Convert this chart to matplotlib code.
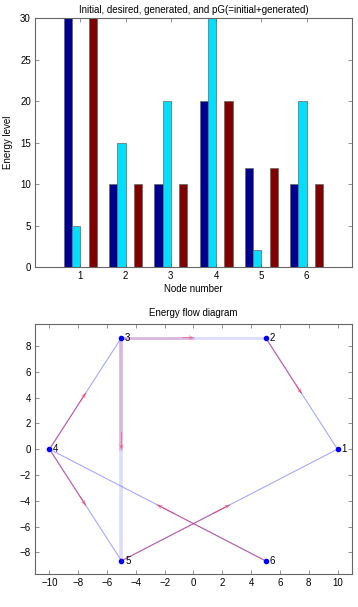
import matplotlib
matplotlib.use("Agg")
import matplotlib.pyplot as plt
import numpy as np
from matplotlib.patches import FancyArrowPatch

plt.rcParams['font.family'] = ['Liberation Sans', 'DejaVu Sans']
plt.rcParams['font.size'] = 7

# Bar data
nodes = [1, 2, 3, 4, 5, 6]
initial = [30, 10, 10, 20, 12, 10]
desired = [5, 15, 20, 30, 2, 20]
generated = [0, 0, 0, 0, 0, 0]
pG = [30, 10, 10, 20, 12, 10]
series = [initial, desired, generated, pG]
bar_colors = ['#00008f', '#00dfff', '#ffff00', '#800000']

# Graph data
node_x = [10, 5, -5, -10, -5, 5]
node_y = [0, 8.66, 8.66, 0, -8.66, -8.66]
edge_src = [2, 3, 3, 4, 4, 5, 6]
edge_dst = [1, 2, 5, 3, 5, 1, 4]
edge_w = [0.8, 2.0, 2.6, 0.8, 0.8, 0.8, 0.8]

fig = plt.figure(figsize=(3.58, 6.07), dpi=100)

def style(ax):
    for s in ax.spines.values():
        s.set_color('#666666')
        s.set_linewidth(0.8)
    ax.tick_params(direction='in', length=3, width=0.5, colors='#666666',
                   labelcolor='black', top=True, right=True, labelsize=7, pad=3)

# Top: grouped bars
ax1 = fig.add_axes([0.098, 0.560, 0.885, 0.410])
gw = 4 / 5.5
bw = gw / 4
x = np.array(nodes, dtype=float)
for i, (vals, c) in enumerate(zip(series, bar_colors)):
    off = -gw / 2 + bw * (i + 0.5)
    if max(vals) == 0:
        continue
    ax1.bar(x + off, vals, width=bw, color=c, edgecolor='#666666', linewidth=0.5)
ax1.set_xlim(0, 7)
ax1.set_ylim(0, 30)
ax1.set_xticks(nodes)
ax1.set_yticks([0, 5, 10, 15, 20, 25, 30])
ax1.set_title('Initial, desired, generated, and pG(=initial+generated)', fontsize=7, pad=4)
ax1.set_xlabel('Node number', fontsize=7, labelpad=2)
ax1.set_ylabel('Energy level', fontsize=7, labelpad=5)
style(ax1)

# Bottom: energy flow graph
ax2 = fig.add_axes([0.098, 0.054, 0.885, 0.412])
for s, d, w in zip(edge_src, edge_dst, edge_w):
    x0, y0 = node_x[s - 1], node_y[s - 1]
    x1, y1 = node_x[d - 1], node_y[d - 1]
    mx, my = (x0 + x1) / 2, (y0 + y1) / 2
    thin = w < 1
    ax2.plot([x0, x1], [y0, y1], color='#6060ff', lw=w, alpha=0.55 if thin else 0.22, zorder=1)
    ax2.plot([x0, mx], [y0, my], color='#d0306a', lw=w, alpha=0.6 if thin else 0.22, zorder=2)
    ax = x0 + 0.85 * (mx - x0)
    ay = y0 + 0.85 * (my - y0)
    arr = FancyArrowPatch((ax, ay), (mx, my), arrowstyle='->', mutation_scale=6,
                          shrinkA=0, shrinkB=0, color='#f04060', lw=0.6, alpha=0.6, zorder=3)
    ax2.add_patch(arr)
ax2.plot(node_x, node_y, 'o', color='#0000ff', markersize=3, zorder=4)
for i, (nx, ny) in enumerate(zip(node_x, node_y)):
    ax2.text(nx + 0.25, ny, str(i + 1), fontsize=7, va='center', ha='left', zorder=5)
ax2.set_xlim(-11, 11)
ax2.set_ylim(-9.7, 9.7)
ax2.set_xticks(range(-10, 11, 2))
ax2.set_yticks(range(-8, 9, 2))
ax2.set_title('Energy flow diagram', fontsize=7, pad=6)
style(ax2)

fig.savefig('out.png', dpi=100, facecolor='white')
